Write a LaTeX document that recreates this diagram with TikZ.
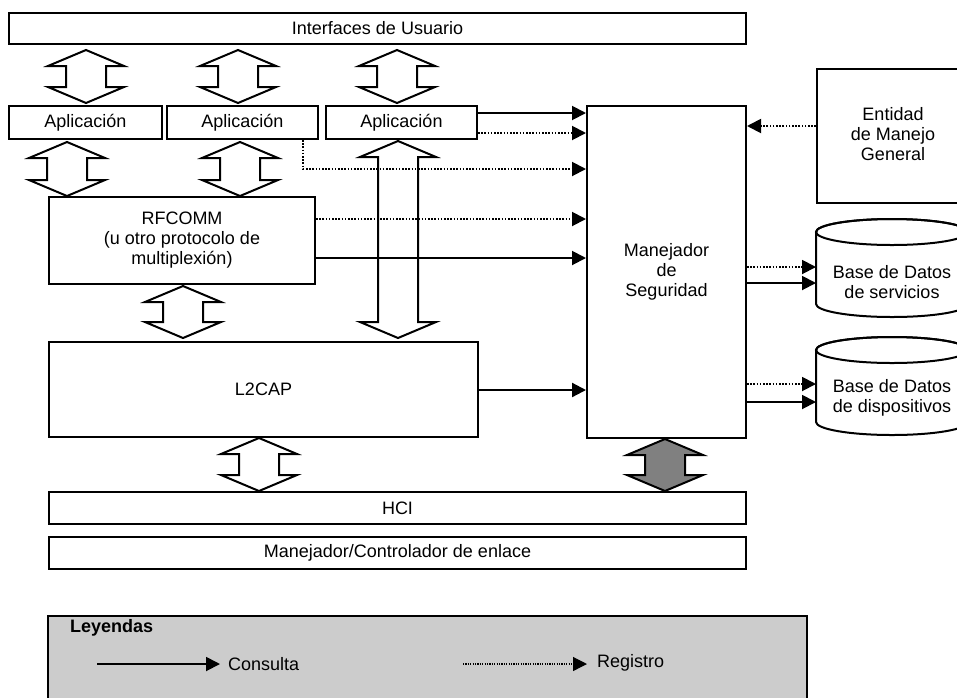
\documentclass[tikz,border=0pt]{standalone}
\usepackage{fontspec}
\setmainfont{Liberation Sans}
\usetikzlibrary{arrows.meta,calc}
% #1 style, #2 x, #3 upper node, #4 lower node, #5 top gap, #6 bottom gap
\newcommand\blockarrow[6][]{%
  \draw[blockarr,#1] let \p1=(#3.south), \p2=(#4.north) in
    (#2pt,\y1-#5pt) -- (#2pt+38pt,\y1-#5pt-16pt) -- (#2pt+20pt,\y1-#5pt-16pt)
    -- (#2pt+20pt,\y2+#6pt+16pt) -- (#2pt+38pt,\y2+#6pt+16pt) -- (#2pt,\y2+#6pt)
    -- (#2pt-38pt,\y2+#6pt+16pt) -- (#2pt-20pt,\y2+#6pt+16pt)
    -- (#2pt-20pt,\y1-#5pt-16pt) -- (#2pt-38pt,\y1-#5pt-16pt) -- cycle;}
\begin{document}
\begin{tikzpicture}[x=1pt,y=-1pt,
  txt/.style={font=\fontsize{18}{20}\selectfont},
  box/.style={draw, line width=2pt, fill=white, inner sep=0pt, align=center, txt},
  blockarr/.style={draw, line width=2pt, fill=white, line join=miter},
  cons/.style={line width=1.9pt, -{Triangle[length=14pt,width=14pt]}},
  reg/.style={line width=1.9pt, dash pattern=on 1.6pt off 1.6pt, -{Triangle[length=14pt,width=14pt]}},
  cyl/.style={line width=2pt, fill=white},
]
\useasboundingbox (0,0) rectangle (957,697);
\clip (0,0) rectangle (957,697);
\fill[white] (0,0) rectangle (957,697);

% boxes
\node[box, minimum width=737pt, minimum height=31pt] (ui) at (377.5,28.5) {Interfaces de Usuario};
\node[box, minimum width=153pt, minimum height=33pt] (app1) at (85.5,122.5) {Aplicación};
\node[box, minimum width=151pt, minimum height=33pt] (app2) at (242.5,122.5) {Aplicación};
\node[box, minimum width=151pt, minimum height=33pt] (app3) at (401.5,122.5) {Aplicación};
\node[box, minimum width=266pt, minimum height=87pt] (rfcomm) at (182,240.5) {RFCOMM\\(u otro protocolo de\\multiplexión)};
\node[box, minimum width=429pt, minimum height=95pt] (l2cap) at (263.5,389.5) {L2CAP};
\node[box, minimum width=159pt, minimum height=332pt] (sec) at (666.5,272) {Manejador\\de\\Seguridad};
\node[box, minimum width=152pt, minimum height=134pt, text depth=4pt] (ent) at (893,136) {Entidad\\de Manejo\\General};
\node[box, minimum width=697pt, minimum height=32pt] (hci) at (397.5,508) {HCI};
\node[box, minimum width=697pt, minimum height=32pt] (lmc) at (397.5,553) {Manejador/Controlador de enlace};

% databases
\draw[cyl] (816,232) -- (816,304) arc[start angle=180, end angle=360, x radius=76pt, y radius=13pt]
  -- (968,232) arc[start angle=0, end angle=180, x radius=76pt, y radius=13pt] -- cycle;
\draw[line width=2pt] (892,232) ellipse [x radius=76pt, y radius=13pt];
\node[txt, align=center, inner sep=0pt] (db1) at (892,282) {Base de Datos\\de servicios};
\coordinate (db1w) at (816,282);

\draw[cyl] (816,350) -- (816,422) arc[start angle=180, end angle=360, x radius=76pt, y radius=13pt]
  -- (968,350) arc[start angle=0, end angle=180, x radius=76pt, y radius=13pt] -- cycle;
\draw[line width=2pt] (892,350) ellipse [x radius=76pt, y radius=13pt];
\node[txt, align=center, inner sep=0pt] (db2) at (892,398) {Base de Datos\\de dispositivos};
\coordinate (db2w) at (816,398);

% block arrows
\blockarrow{86}{ui}{app1}{5}{2}
\blockarrow{238}{ui}{app2}{5}{2}
\blockarrow{397}{ui}{app3}{5}{2}
\blockarrow{67}{app1}{rfcomm}{2}{0}
\blockarrow{240}{app2}{rfcomm}{2}{0}
\blockarrow{183}{rfcomm}{l2cap}{1}{3}
\blockarrow{398}{app3}{l2cap}{1}{3}
\blockarrow{259}{l2cap}{hci}{0}{0}
\blockarrow[fill=black!50]{665}{sec}{hci}{0}{0}

% connectors into the security manager
\coordinate (c169) at (0,169);
\draw[cons] ([yshift=9.5pt]app3.east) -- ([yshift=9.5pt]app3.east -| sec.west);
\draw[reg] ([yshift=-10.5pt]app3.east) -- ([yshift=-10.5pt]app3.east -| sec.west);
\draw[reg] ([xshift=60.5pt]app2.south) |- (c169 -| sec.west);
\draw[reg] ([yshift=21.5pt]rfcomm.east) -- ([yshift=21.5pt]rfcomm.east -| sec.west);
\draw[cons] ([yshift=-17.5pt]rfcomm.east) -- ([yshift=-17.5pt]rfcomm.east -| sec.west);
\draw[cons, line width=2.2pt] ([yshift=-0.5pt]l2cap.east) -- ([yshift=-0.5pt]l2cap.east -| sec.west);
\draw[reg] ([yshift=10pt]ent.west) -- ([yshift=10pt]ent.west -| sec.east);

% connectors to the databases
\draw[reg] ([yshift=5pt]sec.east) -- ([yshift=5pt]sec.east -| db1w);
\draw[cons] ([yshift=-11pt]sec.east) -- ([yshift=-11pt]sec.east -| db1w);
\draw[reg] ([yshift=-112pt]sec.east) -- ([yshift=-112pt]sec.east -| db2w);
\draw[cons] ([yshift=-130pt]sec.east) -- ([yshift=-130pt]sec.east -| db2w);

% legend
\draw[line width=2pt, fill=black!20] (48,616) rectangle (807,720);
\node[txt, font=\fontsize{18}{20}\selectfont\bfseries, anchor=west, inner sep=0pt] (legtitle) at (70,628) {Leyendas};
\coordinate (lc1) at (97,664);
\coordinate (lc2) at (220,664);
\draw[cons] (lc1) -- (lc2);
\node[txt, anchor=west, inner sep=0pt] (lcons) at (228,664) {Consulta};
\coordinate (lr1) at (463,664);
\coordinate (lr2) at (587,664);
\draw[reg, line width=1.2pt, dash pattern=on 1.2pt off 1.2pt] (lr1) -- (lr2);
\node[txt, anchor=west, inner sep=0pt] (lreg) at (597,663) {Registro};
\end{tikzpicture}
\end{document}
